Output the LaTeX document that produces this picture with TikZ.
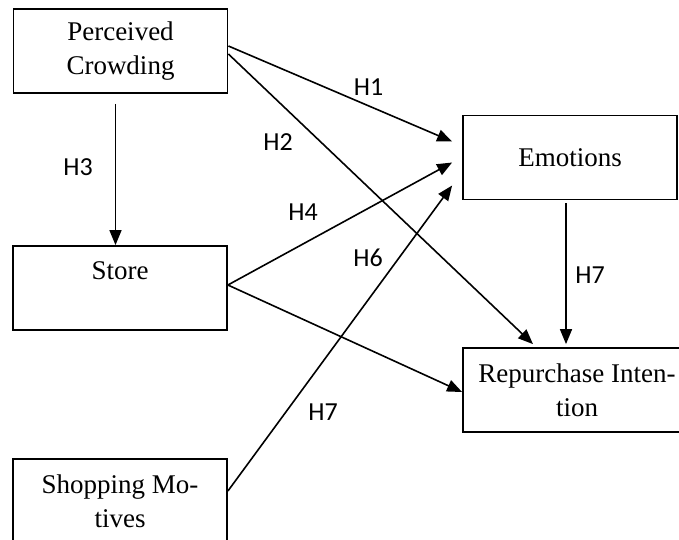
\documentclass[tikz,border=0pt]{standalone}
\usepackage{fontspec}
\setmainfont{Liberation Serif}
\newfontfamily\labelfont{Carlito}
\usetikzlibrary{arrows.meta}
\tikzset{
  box/.style={draw=black, line width=1.8pt, minimum width=214pt, minimum height=84pt,
    inner sep=0pt, align=center, font=\fontsize{27pt}{34pt}\selectfont},
  arr/.style={draw=black, line width=1.6pt, -{Triangle[length=15pt,width=12pt]}},
  hlabel/.style={inner sep=0pt, font=\labelfont\fontsize{26pt}{30pt}\selectfont}
}
\begin{document}
\begin{tikzpicture}[x=1pt,y=-1pt]
\useasboundingbox (0,0) rectangle (679,539);
\fill[white] (0,0) rectangle (679,539);
\clip (0,0) rectangle (679,539);
\node[box] (pc) at (120.5,51) {Perceived\\Crowding};
\node[box] (st) at (120,288) {Store\\~};
\node[box] (emo) at (570,157.5) {Emotions};
\node[box, minimum width=228pt] (rp) at (577,390) {Repurchase Inten-\\tion};
\node[box] (sm) at (120,501) {Shopping Mo-\\tives};

\draw[arr] ([yshift=5pt]pc.east) -- ([xshift=-10pt,yshift=16pt]emo.west);
\draw[arr] ([yshift=-3pt]pc.east) -- ([xshift=-44pt,yshift=3pt]rp.north);
\draw[arr] ([xshift=-5pt,yshift=-10pt]pc.south) -- ([xshift=-5pt]pc.south |- st.north);
\draw[arr] ([yshift=3pt]st.east) -- ([xshift=-10pt,yshift=-5pt]emo.west);
\draw[arr] ([yshift=3pt]st.east) -- ([yshift=-2pt]rp.west);
\draw[arr] ([yshift=10pt]sm.east) -- ([xshift=-10pt,yshift=-28pt]emo.west);
\draw[arr] ([xshift=-4pt,yshift=-3pt]emo.south) -- ([xshift=-4pt,yshift=3pt]emo.south |- rp.north);

\node[hlabel] (h1) at (368.5,87.5) {H1};
\node[hlabel] (h2) at (278,142) {H2};
\node[hlabel] (h3) at (78,167) {H3};
\node[hlabel] (h4) at (303,212) {H4};
\node[hlabel] (h6) at (368,258) {H6};
\node[hlabel] (h7a) at (590,275) {H7};
\node[hlabel] (h7b) at (323,412) {H7};
\end{tikzpicture}
\end{document}
